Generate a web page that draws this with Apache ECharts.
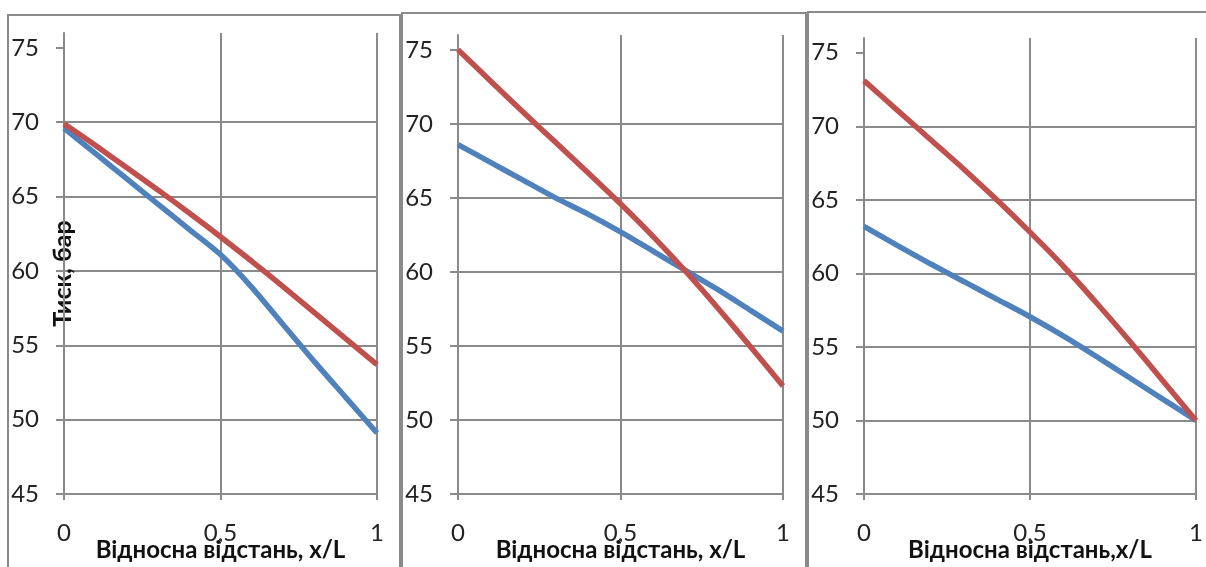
<!DOCTYPE html>
<html><head><meta charset="utf-8">
<script src="https://cdn.jsdelivr.net/npm/echarts@6/dist/echarts.min.js"></script>
<style>
html,body{margin:0;padding:0;background:#fff;}
#wrap{position:relative;width:1206px;height:567px;overflow:hidden;background:#fff;}
.frame{position:absolute;border:2px solid #8a8a8a;box-sizing:border-box;}
#chart{position:absolute;left:0;top:0;width:1206px;height:567px;}
</style></head><body>
<div id="wrap">
<div class="frame" style="left:7px;top:14px;width:394px;height:600px"></div>
<div class="frame" style="left:401px;top:12px;width:406px;height:600px"></div>
<div class="frame" style="left:807px;top:11px;width:420px;height:600px"></div>
<div id="chart"></div>
</div>
<script>
// ---- data ----
const xValues = [0, 0.1, 0.2, 0.3, 0.4, 0.5, 0.6, 0.7, 0.8, 0.9, 1];
const panel1Blue = [69.6, 67.9, 66.2, 64.5, 62.8, 61.1, 58.9, 56.4, 53.9, 51.5, 49.1];
const panel1Red  = [69.9, 68.45, 66.95, 65.45, 63.9, 62.3, 60.65, 58.95, 57.2, 55.45, 53.7];
const panel2Blue = [68.6, 67.4, 66.2, 65.0, 63.9, 62.7, 61.4, 60.1, 58.8, 57.4, 56.0];
const panel2Red  = [75.0, 72.9, 70.8, 68.75, 66.7, 64.6, 62.4, 60.05, 57.55, 54.95, 52.3];
const panel3Blue = [63.2, 61.9, 60.65, 59.45, 58.25, 57.05, 55.75, 54.35, 52.9, 51.45, 50.0];
const panel3Red  = [73.1, 71.1, 69.1, 67.1, 65.0, 62.8, 60.5, 58.0, 55.4, 52.7, 50.0];
const yTicks = [45, 50, 55, 60, 65, 70, 75];
const xTicks = [0, 0.5, 1];
const xTitles = ['Відносна відстань, x/L', 'Відносна відстань, x/L', 'Відносна відстань,x/L'];
const yTitle = 'Тиск, бар';

// ---- layout / style ----
const FONT = 'Lato, "Open Sans", sans-serif';
const GRID_COLOR = '#8a8a8a';
const BLUE = '#4F81BD', RED = '#C0504D';
const grids = [
  {left: 64, top: 33, width: 313, height: 466},
  {left: 458, top: 35, width: 325, height: 467},
  {left: 864, top: 38, width: 332, height: 469}
];
const panels = [[panel1Blue, panel1Red], [panel2Blue, panel2Red], [panel3Blue, panel3Red]];

const lineStyle = {color: GRID_COLOR, width: 2};
const xAxes = [], yAxes = [], series = [];
grids.forEach((g, i) => {
  xAxes.push({
    type: 'value', gridIndex: i, min: 0, max: 1, interval: 0.5,
    axisLine: {show: true, onZero: false, lineStyle},
    axisTick: {show: true, length: 6, lineStyle, customValues: xTicks},
    axisLabel: {customValues: xTicks, fontSize: 24, fontFamily: FONT, color: '#222', margin: 27,
      formatter: v => String(v).replace('.', ',')},
    splitLine: {show: true, lineStyle},
    name: xTitles[i], nameLocation: 'middle', nameGap: 44, nameMoveOverlap: false,
    nameTextStyle: {fontSize: 24, fontWeight: 'bold', fontFamily: FONT, color: '#111'}
  });
  const ya = {
    type: 'value', gridIndex: i, min: 45, max: 76, interval: 5,
    axisLine: {show: true, lineStyle},
    axisTick: {show: true, length: 8, lineStyle, customValues: yTicks},
    axisLabel: {customValues: yTicks, fontSize: 24, fontFamily: FONT, color: '#222', margin: 25},
    splitLine: {show: true, showMaxLine: false, lineStyle}
  };
  if (i === 0) {
    ya.name = yTitle;
    ya.nameLocation = 'middle';
    ya.nameGap = -11;
    ya.nameRotate = 90;
    ya.nameMoveOverlap = false;
    ya.nameTextStyle = {fontSize: 25, fontWeight: 'bold', fontFamily: FONT, color: '#111', padding: [0, 20, 0, 0]};
  }
  yAxes.push(ya);
  const colors = [BLUE, RED];
  panels[i].forEach((arr, k) => {
    series.push({
      type: 'line', xAxisIndex: i, yAxisIndex: i, symbol: 'none', smooth: 0.25,
      data: xValues.map((x, j) => [x, arr[j]]),
      lineStyle: {color: colors[k], width: 5.5},
      itemStyle: {color: colors[k]},
      z: 3 + k
    });
  });
});

const chart = echarts.init(document.getElementById('chart'), null, {renderer: 'canvas'});
chart.setOption({
  animation: false,
  backgroundColor: 'transparent',
  grid: grids.map(g => Object.assign({containLabel: false}, g)),
  xAxis: xAxes,
  yAxis: yAxes,
  series
});
</script>
</body></html>
